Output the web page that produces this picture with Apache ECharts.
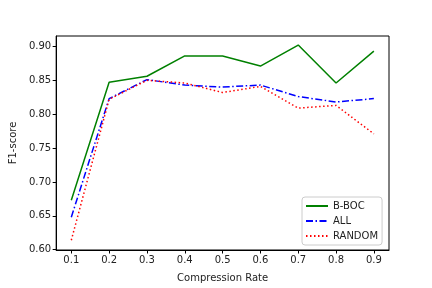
<!DOCTYPE html>
<html>
<head>
<meta charset="utf-8">
<script src="https://cdn.jsdelivr.net/npm/echarts@6/dist/echarts.min.js"></script>
<style>
  html, body { margin: 0; padding: 0; background: #fff; }
  #chart { width: 432px; height: 288px; }
</style>
</head>
<body>
<div id="chart"></div>
<script>
// compression rates
var rates = [0.1, 0.2, 0.3, 0.4, 0.5, 0.6, 0.7, 0.8, 0.9];
// F1 scores per method
var bboc = [0.673, 0.847, 0.856, 0.886, 0.886, 0.871, 0.902, 0.846, 0.893];
var all = [0.648, 0.823, 0.851, 0.843, 0.840, 0.843, 0.826, 0.818, 0.823];
var random = [0.614, 0.822, 0.850, 0.846, 0.832, 0.841, 0.809, 0.813, 0.771];
// tick labels
var xTicks = [0.1, 0.2, 0.3, 0.4, 0.5, 0.6, 0.7, 0.8, 0.9];
var yTicks = [0.60, 0.65, 0.70, 0.75, 0.80, 0.85, 0.90];

function pairs(ys) {
  return rates.map(function (x, i) { return [x, ys[i]]; });
}

var font = 'DejaVu Sans';
var chart = echarts.init(document.getElementById('chart'), null, { renderer: 'canvas' });

chart.setOption({
  animation: false,
  backgroundColor: '#fff',
  grid: {
    left: 54, right: 43, top: 36, bottom: 36,
    show: true, borderColor: '#000', borderWidth: 1
  },
  xAxis: {
    type: 'value',
    min: 0.06, max: 0.94,
    name: 'Compression Rate',
    nameLocation: 'middle',
    nameGap: 23,
    nameTextStyle: { color: '#222', fontFamily: font, fontSize: 10 },
    axisLine: { show: true, onZero: false, lineStyle: { color: '#000', width: 1 } },
    axisTick: { show: true, length: 3.5, customValues: xTicks, lineStyle: { color: '#000' } },
    axisLabel: {
      customValues: xTicks, color: '#222', fontFamily: font, fontSize: 10, margin: 5,
      formatter: function (v) { return v.toFixed(1); }
    },
    splitLine: { show: false }
  },
  yAxis: {
    type: 'value',
    min: 0.5996, max: 0.9154,
    name: 'F1-score',
    nameLocation: 'middle',
    nameGap: 35,
    nameTextStyle: { color: '#222', fontFamily: font, fontSize: 10 },
    axisLine: { show: true, onZero: false, lineStyle: { color: '#000', width: 1 } },
    axisTick: { show: true, length: 3.5, customValues: yTicks, lineStyle: { color: '#000' } },
    axisLabel: {
      customValues: yTicks, color: '#222', fontFamily: font, fontSize: 10, margin: 5,
      formatter: function (v) { return v.toFixed(2); }
    },
    splitLine: { show: false }
  },
  legend: {
    orient: 'vertical',
    left: 302, top: 197,
    padding: [4, 4, 4, 3],
    itemWidth: 22, itemHeight: 10, itemGap: 5,
    backgroundColor: 'rgba(255,255,255,0.8)',
    borderColor: '#ccc', borderWidth: 1, borderRadius: 3,
    itemStyle: { opacity: 0 },
    textStyle: { color: '#222', fontFamily: font, fontSize: 10 },
    data: ['B-BOC', 'ALL', 'RANDOM']
  },
  series: [
    {
      name: 'B-BOC', type: 'line', data: pairs(bboc),
      symbol: 'none', color: '#008000',
      lineStyle: { color: '#008000', width: 1.5 }
    },
    {
      name: 'ALL', type: 'line', data: pairs(all),
      symbol: 'none', color: '#0000ff',
      lineStyle: { color: '#0000ff', width: 1.5, type: [7, 2.5, 1.5, 2.5] }
    },
    {
      name: 'RANDOM', type: 'line', data: pairs(random),
      symbol: 'none', color: '#ff0000',
      lineStyle: { color: '#ff0000', width: 1.5, type: [1.5, 2.5] }
    }
  ]
});
</script>
</body>
</html>
